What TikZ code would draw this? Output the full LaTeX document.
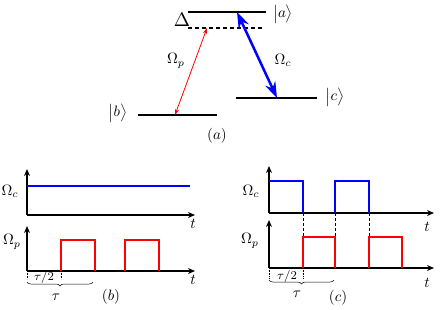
\documentclass[tikz,border=0pt]{standalone}
\usetikzlibrary{arrows.meta,decorations.pathreplacing}
\begin{document}
\begin{tikzpicture}[x=1pt,y=-1pt,
  every node/.style={inner sep=0pt,scale=1.5},
  small/.style={scale=1},
  lvl/.style={line width=1.4pt},
  axis/.style={line width=1.3pt,-{Stealth[length=7pt,width=6pt]}},
  bluepulse/.style={draw=blue,line width=1.2pt},
  redpulse/.style={draw=red,line width=1.2pt},
  guide/.style={densely dashed,line width=0.7pt},
  tick/.style={densely dotted,line width=0.6pt},
  brc/.style={decorate,decoration={brace,mirror,amplitude=4pt},line width=0.5pt}]
\useasboundingbox (0,0) rectangle (443,309);
% ---- level scheme (a)
\coordinate (aL) at (188,12); \coordinate (aR) at (266,12);
\coordinate (dL) at (188,28); \coordinate (dR) at (264,28);
\coordinate (bL) at (138,115); \coordinate (bR) at (217,115);
\coordinate (cL) at (236,98); \coordinate (cR) at (317,98);
\draw[lvl] (aL) -- (aR);
\draw[lvl,dashed,dash pattern=on 4pt off 3pt] (dL) -- (dR);
\draw[lvl] (bL) -- (bR);
\draw[lvl] (cL) -- (cR);
\node (ka) at (283,14) {$\bigl|a\bigr\rangle$};
\node (kb) at (118,113) {$\bigl|b\bigr\rangle$};
\node (kc) at (335,97) {$\bigl|c\bigr\rangle$};
\node[scale=1.3] (delta) at (182,20) {$\Delta$};
\coordinate (rt) at (207,28); \coordinate (rb) at (175,115);
\draw[red,line width=0.8pt,{Stealth[length=6pt,width=4pt]}-{Stealth[length=6pt,width=4pt]}] (rt) -- (rb);
\coordinate (bt) at (237,12); \coordinate (bb) at (277,98);
\draw[blue,line width=2.5pt,{Stealth[length=16pt,width=11pt]}-{Stealth[length=16pt,width=11pt]}] (bt) -- (bb);
\node (Op) at (176,61) {$\Omega_p$};
\node (Oc) at (283,60) {$\Omega_c$};
\node (la) at (217,136) {$(a)$};
% ---- panel (b)
\coordinate (b1o) at (27,215);
\draw[axis] (b1o) -- (27,169);
\draw[axis] (b1o) -- (195,215);
\draw[bluepulse] (27,186) -- (190,186);
\node (b1t) at (193,224) {$t$};
\node (b1O) at (10,191) {$\Omega_c$};
\coordinate (b2o) at (27,271);
\draw[axis] (b2o) -- (27,226);
\draw[axis] (b2o) -- (195,271);
\draw[redpulse] (61,271) -- (61,240) -- (95,240) -- (95,271);
\draw[redpulse] (125,271) -- (125,240) -- (159,240) -- (159,271);
\node (b2t) at (193,280) {$t$};
\node (b2O) at (12,242) {$\Omega_p$};
\draw[tick] (27,271) -- (27,279);
\draw[tick] (61,271) -- (61,279);
\node[small] (bh) at (44,277) {\footnotesize$\tau/2$};
\coordinate (bbL) at (27,282); \coordinate (bbR) at (93,282);
\draw[brc] (bbL) -- (bbR);
\node (btau) at (56,297) {$\tau$};
\node (lb) at (111,297) {$(b)$};
% ---- panel (c)
\coordinate (c1o) at (269,213);
\draw[guide] (303,213) -- (303,237);
\draw[guide] (335,213) -- (335,237);
\draw[guide] (369,213) -- (369,237);
\draw[axis] (c1o) -- (269,166);
\draw[axis] (c1o) -- (434,213);
\draw[bluepulse] (269,181) -- (303,181) -- (303,213);
\draw[bluepulse] (335,213) -- (335,181) -- (369,181) -- (369,213);
\node (c1t) at (427,227) {$t$};
\node (c1O) at (251,191) {$\Omega_c$};
\coordinate (c2o) at (269,268);
\draw[axis] (c2o) -- (269,220);
\draw[axis] (c2o) -- (434,268);
\draw[redpulse] (303,268) -- (303,237) -- (335,237) -- (335,268);
\draw[redpulse] (369,268) -- (369,237) -- (402,237) -- (402,268);
\node (c2t) at (427,283) {$t$};
\node (c2O) at (250,241) {$\Omega_p$};
\draw[tick] (269,268) -- (269,279);
\draw[tick] (303,268) -- (303,279);
\node[small] (ch) at (287,276) {\footnotesize$\tau/2$};
\coordinate (cbL) at (269,280); \coordinate (cbR) at (334,280);
\draw[brc] (cbL) -- (cbR);
\node (ctau) at (297,294) {$\tau$};
\node (lc) at (338,298) {$(c)$};
\end{tikzpicture}
\end{document}
